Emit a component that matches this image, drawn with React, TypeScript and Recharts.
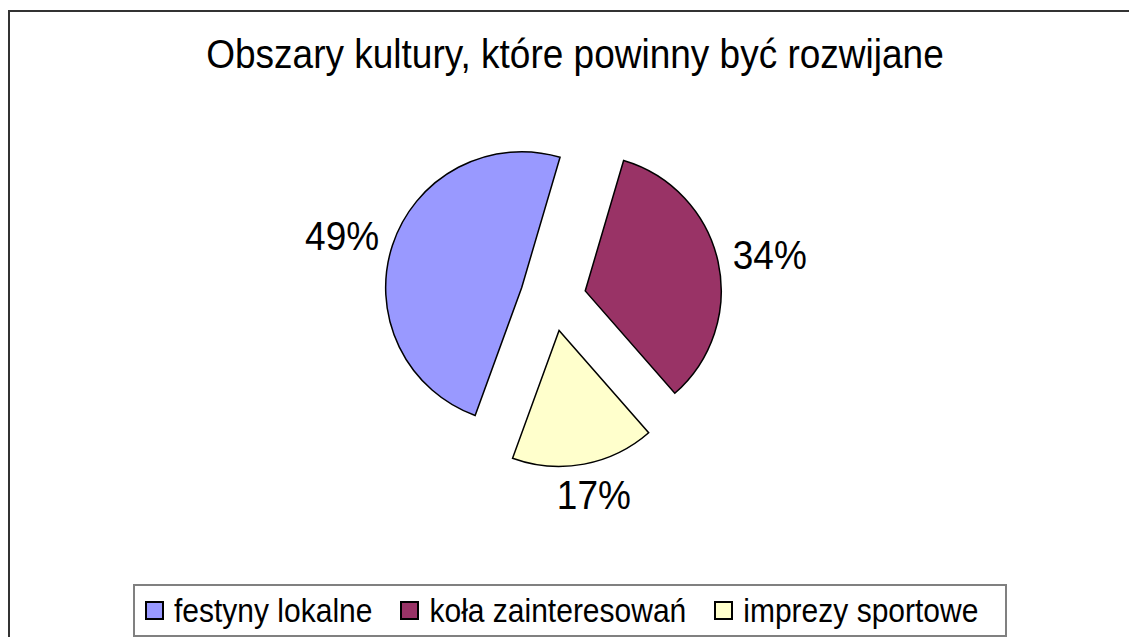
import { PieChart, Pie, Sector, Legend } from 'recharts';

const categories = ['festyny lokalne', 'koła zainteresowań', 'imprezy sportowe'];
const shares = [49, 34, 17];
const colors = ['#9999FF', '#993366', '#FFFFCC'];

const data = categories.map((name, i) => ({ name, value: shares[i] }));

const FONT = '"Liberation Sans", Arial, sans-serif';
const RADIAN = Math.PI / 180;
const EXPLODE = 33;

// draws each slice pulled out along its mid angle, plus the percent label
function renderSlice(props: any) {
  const { cx, cy, midAngle, innerRadius, outerRadius, startAngle, endAngle, percent, index } = props;
  const cos = Math.cos(-midAngle * RADIAN);
  const sin = Math.sin(-midAngle * RADIAN);
  const sx = cx + EXPLODE * cos;
  const sy = cy + EXPLODE * sin;
  const r = outerRadius + EXPLODE + 15;
  const tx = cx + r * cos + cos * 38;
  const ty = cy + r * sin + sin * 16;
  return (
    <g key={`slice-${index}`}>
      <Sector
        cx={sx}
        cy={sy}
        innerRadius={innerRadius}
        outerRadius={outerRadius}
        startAngle={startAngle}
        endAngle={endAngle}
        fill={colors[index]}
        stroke="#000"
        strokeWidth={1.5}
      />
      <text
        transform={`translate(${tx},${ty}) scale(1,1.08)`}
        textAnchor="middle"
        dominantBaseline="central"
        fontFamily={FONT}
        fontSize={37}
        fill="#000"
      >
        {`${Math.round(percent * 100)}%`}
      </text>
    </g>
  );
}

function renderLegend(props: any) {
  const items = [...(props.payload || [])].sort(
    (a: any, b: any) => categories.indexOf(a.value) - categories.indexOf(b.value),
  );
  return (
    <div
      style={{
        boxSizing: 'border-box',
        width: 874,
        height: 53,
        border: '2px solid #808080',
        display: 'flex',
        alignItems: 'center',
        paddingLeft: 10,
        fontFamily: FONT,
        fontSize: 30,
        color: '#000',
        background: '#fff',
      }}
    >
      {items.map((entry: any) => (
        <div key={entry.value} style={{ display: 'flex', alignItems: 'center', marginRight: 28 }}>
          <span
            style={{
              display: 'inline-block',
              width: 15,
              height: 15,
              border: '2px solid #000',
              background: colors[categories.indexOf(entry.value)],
              marginRight: 10,
            }}
          />
          <span
            style={{
              whiteSpace: 'nowrap',
              lineHeight: '30px',
              display: 'inline-block',
              transform: 'scaleY(1.08)',
            }}
          >
            {entry.value}
          </span>
        </div>
      ))}
    </div>
  );
}

export default function App() {
  return (
    <div
      style={{
        position: 'fixed',
        left: 0,
        top: 0,
        width: 1129,
        height: 637,
        overflow: 'hidden',
        background: '#fff',
      }}
    >
      <div
        style={{
          position: 'absolute',
          left: 8,
          top: 10,
          width: 1140,
          height: 700,
          borderTop: '2px solid #333',
          borderLeft: '2px solid #333',
        }}
      />
      <div
        style={{
          position: 'absolute',
          left: 8,
          top: 36,
          width: 1134,
          textAlign: 'center',
          fontFamily: FONT,
          fontSize: 37,
          lineHeight: '37px',
          color: '#000',
          whiteSpace: 'nowrap',
          transform: 'scaleY(1.08)',
        }}
      >
        Obszary kultury, które powinny być rozwijane
      </div>
      <div style={{ position: 'absolute', left: 0, top: 0 }}>
        <PieChart width={1129} height={637} margin={{ top: 0, right: 0, bottom: 0, left: 0 }}>
          <Pie
            data={data}
            dataKey="value"
            nameKey="name"
            cx={553}
            cy={298}
            outerRadius={136}
            startAngle={250}
            endAngle={-110}
            fill="none"
            stroke="none"
            label={renderSlice}
            labelLine={false}
            isAnimationActive={false}
          />
          <Legend
            content={renderLegend}
            wrapperStyle={{ position: 'absolute', left: 133, top: 584, width: 874, height: 53 }}
          />
        </PieChart>
      </div>
    </div>
  );
}
